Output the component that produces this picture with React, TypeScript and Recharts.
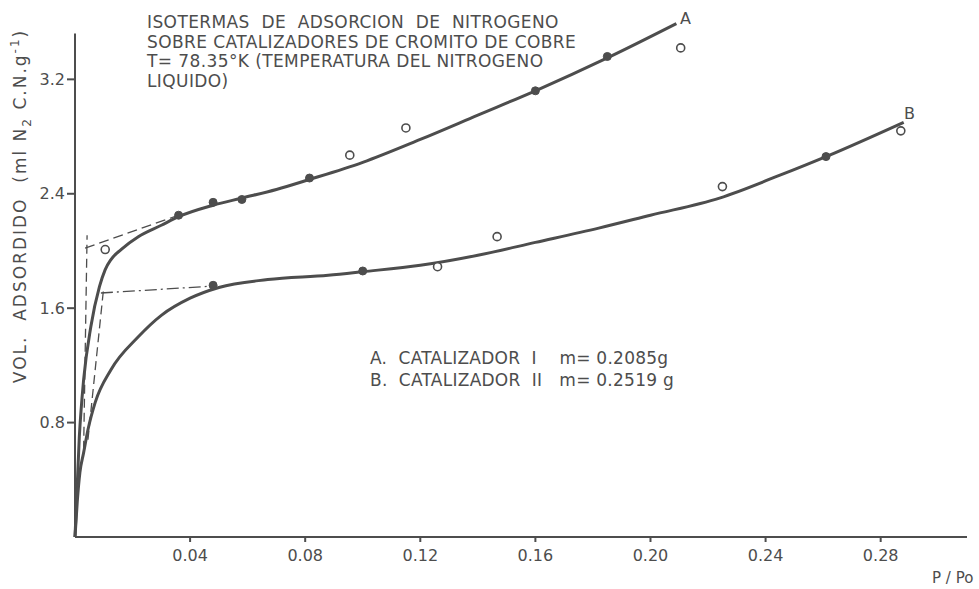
import React from 'react';
import { ComposedChart, Line, Scatter, XAxis, YAxis, ReferenceLine } from 'recharts';

// P/Po vs. volume adsorbed
const curveA: [number, number][] = [
  [0, 0], [0.0015, 0.7], [0.003, 1.1], [0.0055, 1.47], [0.0085, 1.75], [0.0105, 1.87],
  [0.0125, 1.94], [0.016, 2.01], [0.022, 2.1], [0.03, 2.18], [0.036, 2.24], [0.048, 2.32],
  [0.058, 2.37], [0.07, 2.43], [0.0815, 2.5], [0.1, 2.62], [0.12, 2.78], [0.14, 2.95],
  [0.16, 3.12], [0.185, 3.35], [0.209, 3.59],
];
const curveB: [number, number][] = [
  [0, 0], [0.0008, 0.25], [0.0017, 0.45], [0.003, 0.59], [0.0045, 0.75], [0.007, 0.94],
  [0.0125, 1.17], [0.022, 1.4], [0.03, 1.55], [0.04, 1.67], [0.05, 1.745], [0.067, 1.8],
  [0.088, 1.83], [0.1, 1.855], [0.12, 1.9], [0.14, 1.97], [0.16, 2.06], [0.182, 2.16],
  [0.2, 2.25], [0.224, 2.37], [0.245, 2.53], [0.261, 2.66], [0.288, 2.9],
];

// measured points: filled = on the curve, open = off it
const pointsAFilled: [number, number][] = [
  [0.036, 2.25], [0.048, 2.34], [0.058, 2.36], [0.0815, 2.51], [0.16, 3.12], [0.185, 3.36],
];
const pointsAOpen: [number, number][] = [
  [0.0105, 2.01], [0.0955, 2.67], [0.115, 2.86], [0.2105, 3.42],
];
const pointsBFilled: [number, number][] = [[0.048, 1.76], [0.1, 1.86], [0.261, 2.66]];
const pointsBOpen: [number, number][] = [
  [0.126, 1.89], [0.1467, 2.1], [0.225, 2.45], [0.287, 2.84],
];

// construction lines (point B method)
const tangentA: [number, number][] = [[0.0035, 2.02], [0.036, 2.25]];
const tangentB: [number, number][] = [[0.009, 1.706], [0.048, 1.755]];
const dropA: [number, number][] = [[0.003, 0.61], [0.0042, 2.11]];
const dropB: [number, number][] = [[0.0045, 0.68], [0.01, 1.75]];

const xTicks = [0.04, 0.08, 0.12, 0.16, 0.2, 0.24, 0.28];
const yTicks = [0.8, 1.6, 2.4, 3.2];
const yAxisTop = 3.52;

const titleLines = [
  'ISOTERMAS  DE  ADSORCION  DE  NITROGENO',
  'SOBRE CATALIZADORES DE CROMITO DE COBRE',
  'T= 78.35°K (TEMPERATURA DEL NITROGENO',
  'LIQUIDO)',
];
const legendLines = ['A.  CATALIZADOR  I    m= 0.2085g', 'B.  CATALIZADOR  II   m= 0.2519 g'];

const toPts = (arr: [number, number][]) => arr.map(([x, y]) => ({ x, y }));

const INK = '#4d4d4d';
const FONT = '"DejaVu Sans", sans-serif';

const Filled = (p: any) => <circle cx={p.cx} cy={p.cy} r={4} fill={INK} stroke={INK} />;
const Open = (p: any) => <circle cx={p.cx} cy={p.cy} r={4} fill="#fff" stroke={INK} strokeWidth={1.6} />;

const textStyle: React.CSSProperties = {
  position: 'absolute',
  fontFamily: FONT,
  color: INK,
  whiteSpace: 'pre',
};

export default function App() {
  return (
    <div style={{ position: 'relative', width: 979, height: 589, background: '#fff' }}>
      <style>{'body{margin:0}'}</style>
      <ComposedChart width={979} height={589} margin={{ top: 15, right: 12, left: 0, bottom: 0 }}>
        <XAxis
          type="number"
          dataKey="x"
          domain={[0, 0.31]}
          ticks={xTicks}
          tickFormatter={(v: number) => v.toFixed(2)}
          height={52}
          stroke={INK}
          strokeWidth={2}
          tickSize={5}
          tickMargin={8}
          tick={{ fill: INK, fontSize: 16, fontFamily: FONT }}
        />
        <YAxis
          type="number"
          dataKey="y"
          domain={[0, 3.65]}
          ticks={yTicks}
          tickFormatter={(v: number) => v.toFixed(1)}
          width={75}
          stroke={INK}
          strokeWidth={2}
          axisLine={false}
          tickSize={8}
          tick={{ fill: INK, fontSize: 16, fontFamily: FONT }}
        />
        <ReferenceLine segment={[{ x: 0, y: 0 }, { x: 0, y: yAxisTop }]} stroke={INK} strokeWidth={2} />
        <Line data={toPts(dropA)} dataKey="y" type="linear" stroke={INK} strokeWidth={1.3} strokeDasharray="9 5" dot={false} activeDot={false} isAnimationActive={false} />
        <Line data={toPts(dropB)} dataKey="y" type="linear" stroke={INK} strokeWidth={1.3} strokeDasharray="9 5" dot={false} activeDot={false} isAnimationActive={false} />
        <Line data={toPts(tangentA)} dataKey="y" type="linear" stroke={INK} strokeWidth={1.3} strokeDasharray="10 5" dot={false} activeDot={false} isAnimationActive={false} />
        <Line data={toPts(tangentB)} dataKey="y" type="linear" stroke={INK} strokeWidth={1.3} strokeDasharray="12 4 2 4" dot={false} activeDot={false} isAnimationActive={false} />
        <Line data={toPts(curveA)} dataKey="y" type="monotone" stroke={INK} strokeWidth={3} dot={false} activeDot={false} isAnimationActive={false} />
        <Line data={toPts(curveB)} dataKey="y" type="monotone" stroke={INK} strokeWidth={3} dot={false} activeDot={false} isAnimationActive={false} />
        <Scatter data={toPts(pointsAFilled)} dataKey="y" shape={Filled} isAnimationActive={false} />
        <Scatter data={toPts(pointsBFilled)} dataKey="y" shape={Filled} isAnimationActive={false} />
        <Scatter data={toPts(pointsAOpen)} dataKey="y" shape={Open} isAnimationActive={false} />
        <Scatter data={toPts(pointsBOpen)} dataKey="y" shape={Open} isAnimationActive={false} />
      </ComposedChart>

      {titleLines.map((t, i) => (
        <div key={t} style={{ ...textStyle, left: 147, top: 12 + i * 19.5, fontSize: 17, letterSpacing: 0.4, lineHeight: '20px' }}>{t}</div>
      ))}
      {legendLines.map((t, i) => (
        <div key={t} style={{ ...textStyle, left: 370, top: 348 + i * 22, fontSize: 17, letterSpacing: 0.25, lineHeight: '20px' }}>{t}</div>
      ))}
      <div style={{ ...textStyle, left: 680, top: 9, fontSize: 16 }}>A</div>
      <div style={{ ...textStyle, left: 904, top: 104, fontSize: 16 }}>B</div>
      <div style={{ ...textStyle, left: 932, top: 569, fontSize: 15 }}>P / Po</div>
      <div
        style={{
          ...textStyle,
          left: 21,
          top: 206,
          fontSize: 17,
          letterSpacing: 2,
          transform: 'translate(-50%, -50%) rotate(-90deg)',
        }}
      >
        VOL.  ADSORDIDO  (ml N<sub style={{ fontSize: 12 }}>2</sub> C.N.g<sup style={{ fontSize: 12 }}>-1</sup>)
      </div>
    </div>
  );
}
